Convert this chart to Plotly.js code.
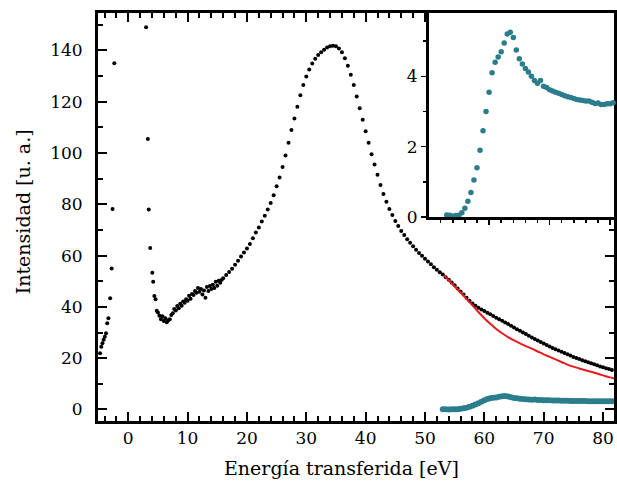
<!DOCTYPE html>
<html>
<head>
<meta charset="utf-8">
<script src="https://cdn.plot.ly/plotly-3.0.1.min.js"></script>
<style>html,body{margin:0;padding:0;background:#fff;}#plot{width:617px;height:491px;}</style>
</head>
<body>
<div id="plot"></div>
<script>
// Black: measured spectrum
const energyBlack = [
-4.75,-4.55,-4.35,-4.15,-3.95,-3.75,-3.55,-3.35,-3.05,-2.8,-2.65,-2.35,
3.0,3.3,3.45,3.7,4.05,4.2,4.4,4.6,4.8,
5.0,5.25,5.5,5.75,6.0,6.25,6.5,6.75,7.0,7.25,7.5,7.75,8.0,8.25,8.5,8.75,9.0,9.25,9.5,9.75,
10.0,10.25,10.5,10.75,11.0,11.25,11.5,11.75,12.0,12.25,12.5,12.75,13.0,13.25,13.5,13.75,
14.0,14.25,14.5,14.75,15.0,15.25,15.5,15.75,16.0,16.5,17.0,17.5,18.0,18.5,19.0,19.5,
20.0,20.5,21.0,21.5,22.0,22.5,23.0,23.5,24.0,24.5,25.0,25.5,26.0,26.5,27.0,27.5,28.0,28.5,29.0,29.5,
30.0,30.5,31.0,31.5,32.0,32.5,33.0,33.5,34.0,34.5,35.0,35.5,36.0,36.5,37.0,37.5,38.0,38.5,39.0,39.5,
40.0,40.5,41.0,41.5,42.0,42.5,43.0,43.5,44.0,44.5,45.0,45.5,46.0,46.5,47.0,47.5,48.0,48.5,49.0,49.5,
50.0,50.5,51.0,51.5,52.0,52.5,53.0,53.5,54.0,54.5,55.0,55.5,56.0,56.5,57.0,57.5,58.0,58.5,59.0,59.5,
60.0,60.5,61.0,61.5,62.0,62.5,63.0,63.5,64.0,64.5,65.0,65.5,66.0,66.5,67.0,67.5,68.0,68.5,69.0,69.5,
70.0,70.5,71.0,71.5,72.0,72.5,73.0,73.5,74.0,74.5,75.0,75.5,76.0,76.5,77.0,77.5,78.0,78.5,79.0,79.5,
80.0,80.5,81.0,81.5
];
const intensityBlack = [
21.9,24.5,25.8,27.2,28.4,29.7,33.6,35.6,43.4,55.0,78.2,135.0,
149.0,105.5,78.0,63.0,53.3,49.8,44.2,43.0,38.5,
37.8,36.5,35.2,36.3,34.5,35.6,34.0,34.8,35.2,36.8,37.5,39.2,38.6,40.3,39.5,41.2,40.4,42.1,41.6,43.0,
42.4,44.3,43.2,45.0,44.6,46.2,45.5,47.4,45.9,47.0,44.8,46.4,43.6,47.8,46.2,48.1,
47.0,48.6,47.4,49.8,48.2,50.2,49.4,50.6,51.2,52.4,53.6,54.9,56.4,58.0,59.6,61.2,
62.8,64.5,66.8,69.0,71.0,73.3,75.5,78.0,80.5,83.5,87.0,90.5,94.5,99.0,104.0,109.0,113.5,118.0,122.5,126.5,
129.8,132.6,134.9,136.8,138.2,139.3,140.3,141.1,141.6,141.8,141.6,140.8,139.3,137.0,134.0,130.5,126.5,122.0,117.5,113.0,
108.5,104.0,99.5,95.5,91.5,87.5,84.0,81.0,78.2,75.8,73.5,71.5,69.6,68.0,66.4,65.0,63.6,62.3,61.0,59.9,
58.8,57.7,56.6,55.5,54.5,53.5,52.6,51.6,50.6,49.5,48.4,47.2,46.0,44.8,43.6,42.4,41.3,40.4,39.7,39.0,
38.4,37.7,37.1,36.4,35.8,35.2,34.6,33.9,33.3,32.6,32.0,31.3,30.7,30.0,29.4,28.7,28.1,27.5,26.9,26.3,
25.7,25.1,24.6,24.0,23.5,23.0,22.5,22.0,21.5,21.0,20.5,20.1,19.7,19.2,18.8,18.4,18.0,17.6,17.2,16.8,
16.5,16.1,15.8,15.4
];
// Red: background curve
const energyRed = [53.2,54.0,55.0,56.0,57.0,58.0,59.0,60.0,61.0,62.0,63.0,64.0,65.0,66.0,67.0,68.0,69.0,70.0,71.0,72.0,73.0,74.0,75.0,76.0,77.0,78.0,79.0,80.0,81.0,82.0];
const intensityRed = [52.4,50.4,48.0,45.6,43.1,40.6,38.0,35.6,33.4,31.4,29.7,28.2,26.9,25.8,24.7,23.7,22.6,21.5,20.5,19.5,18.5,17.5,16.7,16.0,15.3,14.7,14.0,13.3,12.6,12.0];
// Teal: difference signal (main plot and inset)
const energyTeal = [53.0,53.5,54.0,54.5,55.0,55.5,56.0,56.5,57.0,57.5,58.0,58.5,59.0,59.5,60.0,60.5,61.0,61.5,62.0,62.5,63.0,63.5,64.0,64.5,65.0,65.5,66.0,66.5,67.0,67.5,68.0,68.5,69.0,69.5,70.0,70.5,71.0,71.5,72.0,72.5,73.0,73.5,74.0,74.5,75.0,75.5,76.0,76.5,77.0,77.5,78.0,78.5,79.0,79.5,80.0,80.5,81.0,81.5];
const intensityTeal = [0.06,0.05,0.02,0.04,0.05,0.12,0.25,0.45,0.70,1.05,1.40,1.90,2.45,3.00,3.55,4.10,4.40,4.55,4.70,4.95,5.20,5.25,5.10,4.75,4.50,4.35,4.22,4.12,4.00,3.88,3.80,3.88,3.72,3.68,3.62,3.58,3.55,3.52,3.48,3.45,3.42,3.40,3.37,3.34,3.33,3.31,3.30,3.30,3.26,3.23,3.24,3.20,3.20,3.22,3.22,3.25,3.25,3.24];

// Tick settings (label step, minor step)
const xTickStep = 10, xMinorStep = 2;
const yTickStep = 20, yMinorStep = 10;
const insetXTickStep = 10, insetXMinorStep = 2;
const insetYTickStep = 2, insetYMinorStep = 1;
const xTitle = 'Energía transferida [eV]';
const yTitle = 'Intensidad [u. a.]';

const FONT = 'DejaVu Serif, Liberation Serif, serif';
const teal = '#2b7d8c';
const XR = [-5.1, 81.85];
const YR = [-4.5, 154.6];

const traces = [
  {x: energyBlack, y: intensityBlack, type:'scatter', mode:'markers', cliponaxis:false,
   marker:{color:'#000', size:4}, xaxis:'x', yaxis:'y'},
  {x: energyRed, y: intensityRed, type:'scatter', mode:'lines',
   line:{color:'#e8191f', width:2, shape:'spline'}, xaxis:'x', yaxis:'y'},
  {x: energyTeal, y: intensityTeal, type:'scatter', mode:'lines+markers',
   line:{color:teal, width:4}, marker:{color:teal, size:6}, xaxis:'x', yaxis:'y'},
  {x: energyTeal, y: intensityTeal, type:'scatter', mode:'markers', cliponaxis:false,
   marker:{color:teal, size:5.5}, xaxis:'x2', yaxis:'y2'},
  {x: [], y: [], type:'scatter', mode:'markers', xaxis:'x3', yaxis:'y'},
  {x: [], y: [], type:'scatter', mode:'markers', xaxis:'x', yaxis:'y3'}
];

const layout = {
  width:617, height:491, showlegend:false,
  paper_bgcolor:'#fff', plot_bgcolor:'#fff',
  margin:{l:98, r:3, t:13, b:70},
  font:{family:FONT, color:'#000', size:17},
  xaxis:{range:XR, showline:true, linewidth:3, linecolor:'#000', mirror:true, showgrid:false, zeroline:false,
    ticks:'inside', ticklen:9, tickwidth:2, tickcolor:'#000', tick0:0, dtick:xTickStep,
    minor:{dtick:xMinorStep, ticks:'inside', ticklen:5, tickcolor:'#000'},
    tickfont:{family:FONT, size:17, color:'#000'}},
  yaxis:{range:YR, showline:true, linewidth:3, linecolor:'#000', mirror:true, showgrid:false, zeroline:false,
    ticks:'inside', ticklen:9, tickwidth:2, tickcolor:'#000', tick0:0, dtick:yTickStep,
    minor:{dtick:yMinorStep, ticks:'inside', ticklen:5, tickcolor:'#000'},
    tickfont:{family:FONT, size:17, color:'#000'}, ticklabelstandoff:9},
  xaxis3:{overlaying:'x', side:'top', anchor:'y', range:XR, showgrid:false, zeroline:false, showticklabels:false,
    ticks:'inside', ticklen:9, tickwidth:2, tickcolor:'#000', tick0:0, dtick:xTickStep,
    minor:{dtick:xMinorStep, ticks:'inside', ticklen:5, tickcolor:'#000'}},
  yaxis3:{overlaying:'y', side:'right', anchor:'x', range:YR, showgrid:false, zeroline:false, showticklabels:false,
    ticks:'inside', ticklen:9, tickwidth:2, tickcolor:'#000', tick0:0, dtick:yTickStep,
    minor:{dtick:yMinorStep, ticks:'inside', ticklen:5, tickcolor:'#000'}},
  xaxis2:{domain:[0.6415,1], anchor:'y2', range:[50.07,80.65], showgrid:false, zeroline:false,
    showline:true, linewidth:3, linecolor:'#000', showticklabels:false,
    ticks:'outside', ticklen:5, tickwidth:1.5, tickcolor:'#000', tick0:0, dtick:insetXTickStep,
    minor:{dtick:insetXMinorStep, ticks:'outside', ticklen:3, tickcolor:'#000'}},
  yaxis2:{domain:[0.5,1], anchor:'x2', range:[0,5.8], showgrid:false, zeroline:false,
    showline:true, linewidth:3, linecolor:'#000',
    ticks:'outside', ticklen:5, tickwidth:1.5, tickcolor:'#000', tick0:0, dtick:insetYTickStep,
    minor:{dtick:insetYMinorStep, ticks:'outside', ticklen:3, tickcolor:'#000'},
    tickfont:{family:FONT, size:17, color:'#000'}},
  annotations:[
    {text:xTitle, xref:'paper', yref:'paper', x:0.472, y:-0.115, xanchor:'center', yanchor:'middle',
     showarrow:false, font:{family:FONT, size:19, color:'#000'}},
    {text:yTitle, xref:'paper', yref:'paper', x:-0.145, y:0.512, xanchor:'center', yanchor:'middle',
     textangle:-90, showarrow:false, font:{family:FONT, size:19, color:'#000'}}
  ]
};

Plotly.newPlot('plot', traces, layout, {displayModeBar:false, staticPlot:true});
</script>
</body>
</html>
